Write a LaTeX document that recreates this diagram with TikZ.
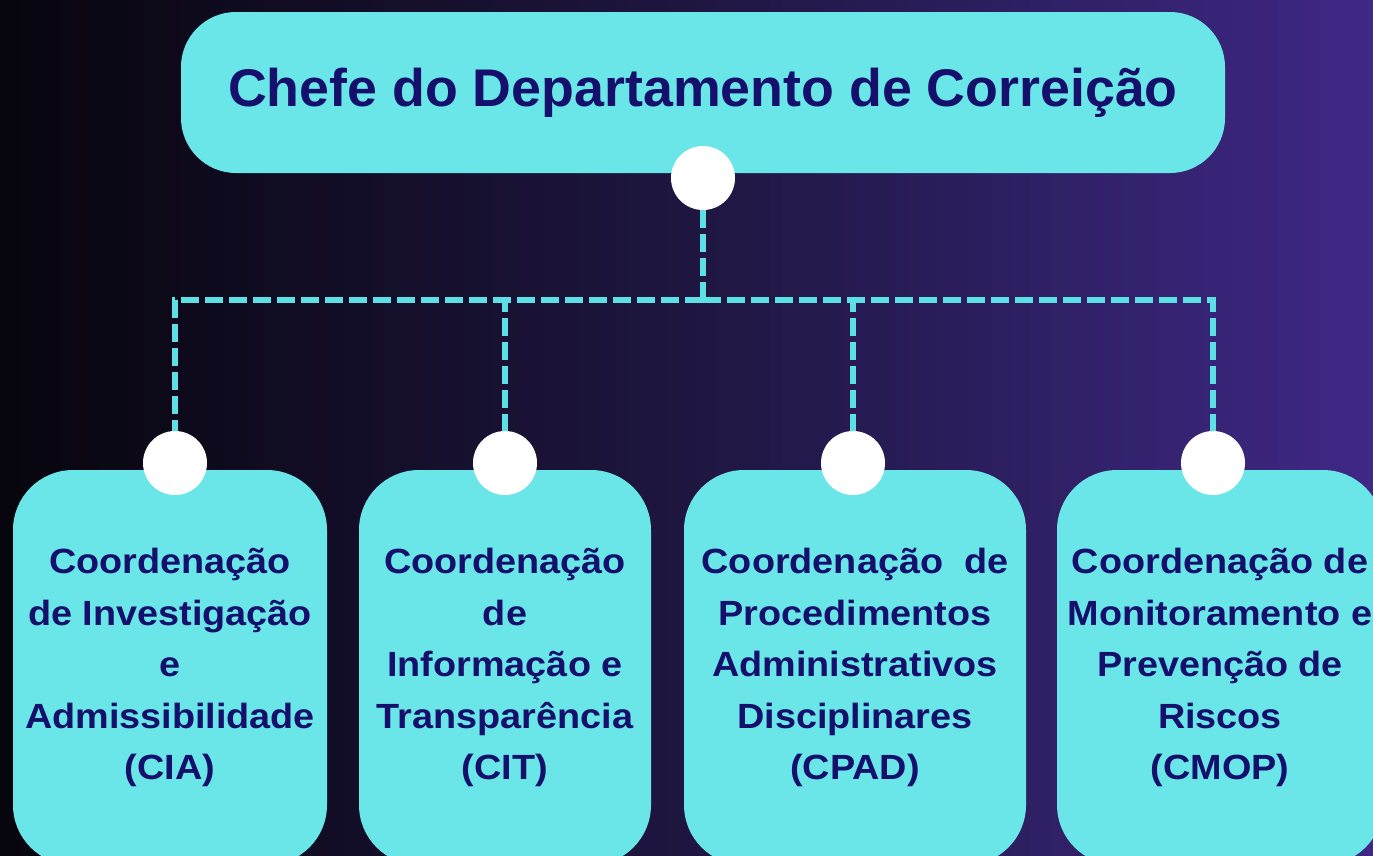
\documentclass[tikz,border=0pt]{standalone}
\usepackage{fontspec}
\setmainfont{Liberation Sans}
\newfontfamily\titlefont{Liberation Sans}[FakeStretch=1.014]
\newfontfamily\boxfont{Liberation Sans}[FakeStretch=1.08]
\usetikzlibrary{backgrounds}
\definecolor{bgL}{HTML}{07050D}
\definecolor{bgM}{HTML}{1E1640}
\definecolor{bgR}{HTML}{3F2886}
\definecolor{boxc}{HTML}{6AE5E8}
\definecolor{linec}{HTML}{5CE0E6}
\definecolor{txt}{HTML}{14106C}
\tikzset{
  topbox/.style={fill=boxc, rounded corners=55pt, minimum width=1044pt, minimum height=161pt, inner sep=0pt,
    text=txt, font=\titlefont\bfseries\fontsize{53}{60}\selectfont},
  subbox/.style={fill=boxc, rounded corners=60pt, minimum height=395pt, inner sep=0pt,
    text=txt, align=center, font=\boxfont\bfseries\fontsize{35}{51.5}\selectfont},
  dot/.style={circle, fill=white, minimum size=64pt, inner sep=0pt},
  link/.style={draw=linec, line width=6.5pt, dash pattern=on 18pt off 6pt}
}
\begin{document}
\begin{tikzpicture}[x=1pt, y=-1pt]
\useasboundingbox (0,0) rectangle (1373,855);
\begin{scope}[on background layer]
\shade[left color=bgL, right color=bgR, middle color=bgM] (0,0) rectangle (1373,855);
\end{scope}
\node[topbox] (top) at (703,92.5) {Chefe do Departamento de Correição};
\node[subbox, minimum width=314pt] (b1) at (170,667.5) {Coordenação\\de Investigação\\e\\Admissibilidade\\(CIA)};
\node[subbox, minimum width=292pt] (b2) at (505,667.5) {Coordenação\\de\\Informação e\\Transparência\\(CIT)};
\node[subbox, minimum width=342pt] (b3) at (855,667.5) {Coordenação~ de\\Procedimentos\\Administrativos\\Disciplinares\\(CPAD)};
\node[subbox, minimum width=326pt] (b4) at (1220,667.5) {Coordenação de\\Monitoramento e\\Prevenção de\\Riscos\\(CMOP)};
\node[dot] (c0) at (703,178) {};
\node[dot] (c1) at (175,463) {};
\node[dot] (c2) at (505,463) {};
\node[dot] (c3) at (853,463) {};
\node[dot] (c4) at (1213,463) {};
\coordinate (j) at (703,300);
\draw[link] (c0.south) -- (j);
\draw[link] (j) -| (c1.north);
\draw[link] (j) -| (c2.north);
\draw[link] (j) -| (c3.north);
\draw[link] (j) -| (c4.north);
\end{tikzpicture}
\end{document}
